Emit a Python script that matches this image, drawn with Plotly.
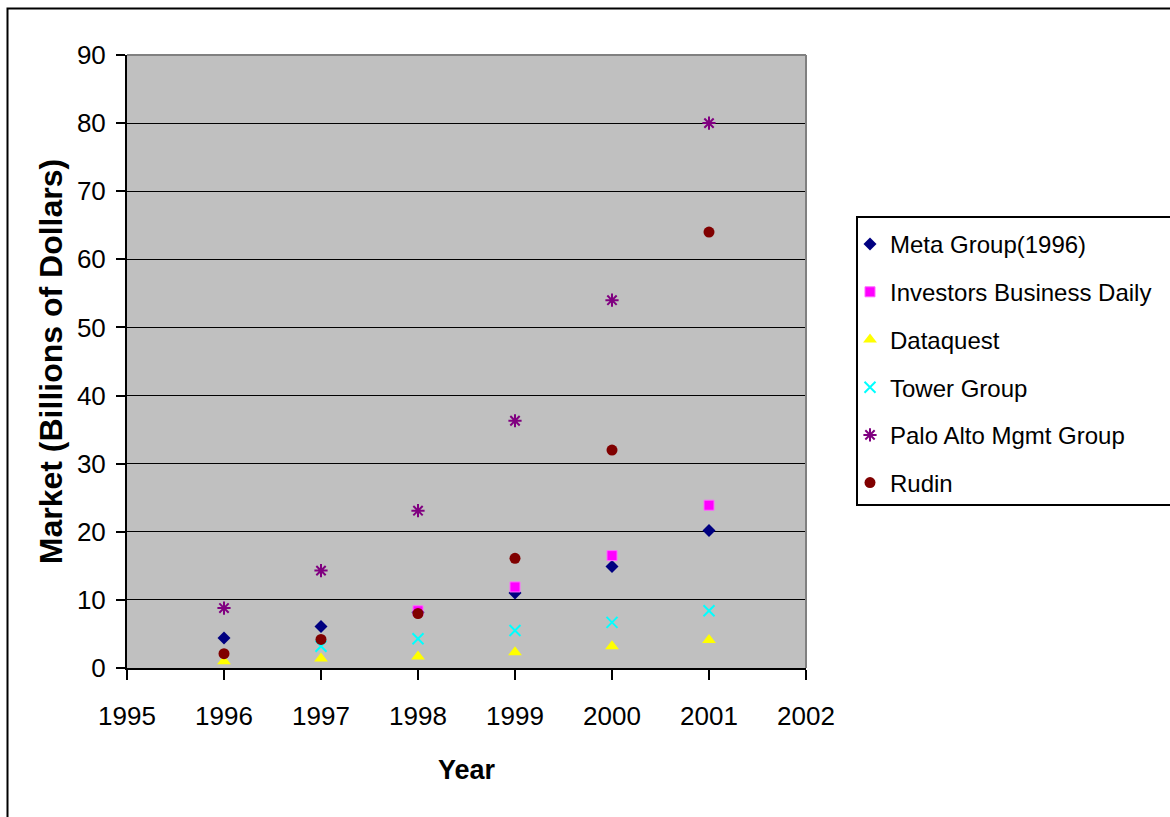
import plotly.graph_objects as go

years = [1996, 1997, 1998, 1999, 2000, 2001]
meta_group = [4.4, 6.1, 8.2, 11.0, 14.9, 20.2]
investors_business_daily = [None, None, 8.4, 11.9, 16.5, 23.9]
dataquest = [1.0, 1.4, 1.7, 2.3, 3.2, 4.1]
tower_group = [None, 3.2, 4.3, 5.5, 6.7, 8.4]
palo_alto = [8.8, 14.3, 23.1, 36.3, 54.0, 80.0]
rudin = [2.1, 4.2, 8.0, 16.1, 32.0, 64.0]

series = [
    ("Meta Group(1996)", meta_group, dict(symbol="diamond", color="#000080", size=10)),
    ("Investors Business Daily", investors_business_daily,
     dict(symbol="square", color="#FF00FF", size=10, line=dict(color="#FF66FF", width=1))),
    ("Dataquest", dataquest, dict(symbol="triangle-up", color="#FFFF00", size=12)),
    ("Tower Group", tower_group, dict(symbol="x-thin", color="#00FFFF", size=11,
                                      line=dict(color="#00FFFF", width=2))),
    ("Palo Alto Mgmt Group", palo_alto, dict(symbol="asterisk", color="#800080", size=11,
                                             line=dict(color="#800080", width=2))),
    ("Rudin", rudin, dict(symbol="circle", color="#800000", size=11)),
]

FONT = "Liberation Sans, Arial, sans-serif"

fig = go.Figure()
for i, (name, vals, mk) in enumerate(series):
    fig.add_trace(go.Scatter(x=years, y=vals, mode="markers", name=name,
                             marker=mk, legendgroup=f"g{i}"))

W, H = 1170, 817
L, R, T, B = 127, 806, 55, 668
pw, ph = R - L, B - T

def px_x(p):
    return (p - L) / pw

def px_y(p):
    return (B - p) / ph

fig.update_layout(
    width=W, height=H, autosize=False,
    margin=dict(l=L, r=W - R, t=T, b=H - B, pad=0),
    paper_bgcolor="white",
    plot_bgcolor="#C0C0C0",
    font=dict(family=FONT, color="black", size=24),
    showlegend=True,
    legend=dict(
        x=px_x(850), y=px_y(222), xanchor="left", yanchor="top",
        bgcolor="rgba(0,0,0,0)", borderwidth=0,
        font=dict(family=FONT, size=24, color="black"),
        tracegroupgap=13.5,
        itemsizing="trace",
    ),
    xaxis=dict(
        range=[1995, 2002], dtick=1, tick0=1995,
        showgrid=False, zeroline=False,
        showline=True, linecolor="black", linewidth=2,
        ticks="outside", ticklen=10, tickwidth=2, tickcolor="black",
        tickfont=dict(family=FONT, size=26, color="black"),
        ticklabelstandoff=14,
        title=dict(text="<b>Year</b>", font=dict(family=FONT, size=27, color="black"),
                   standoff=30),
    ),
    yaxis=dict(
        range=[0, 90], dtick=10,
        showgrid=True, gridcolor="black", gridwidth=1,
        zeroline=False,
        showline=True, linecolor="black", linewidth=2,
        ticks="outside", ticklen=9, tickwidth=2, tickcolor="black",
        tickfont=dict(family=FONT, size=26, color="black"),
        ticklabelstandoff=5,
        title=dict(text="<b>Market (Billions of Dollars)</b>",
                   font=dict(family=FONT, size=32, color="black"), standoff=5),
    ),
    shapes=[
        # gray top and right border of plot area
        dict(type="line", xref="paper", yref="paper", x0=0, x1=1, y0=1, y1=1,
             line=dict(color="#808080", width=2), layer="above"),
        dict(type="line", xref="paper", yref="paper", x0=1, x1=1, y0=0, y1=1,
             line=dict(color="#808080", width=2), layer="above"),
        # outer chart border (left and top visible)
        dict(type="rect", xref="paper", yref="paper",
             x0=px_x(7.5), x1=px_x(1180), y0=px_y(830), y1=px_y(8.5),
             line=dict(color="black", width=2), layer="below"),
        # legend frame (runs past the right edge like the original)
        dict(type="rect", xref="paper", yref="paper",
             x0=px_x(857), x1=px_x(1190), y0=px_y(505), y1=px_y(217),
             line=dict(color="black", width=2), fillcolor="white", layer="below"),
    ],
)

fig.write_html(
    "out.html",
    config={"responsive": False, "displayModeBar": False},
    post_script="document.body.style.margin='0';document.body.style.overflow='hidden';",
)
